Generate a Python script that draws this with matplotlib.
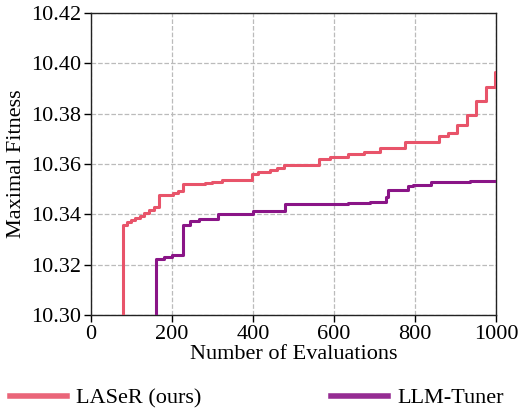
import matplotlib
matplotlib.use("Agg")
import matplotlib.pyplot as plt

plt.rcParams['font.family'] = ['Liberation Serif', 'DejaVu Serif']

laser_x = [1, 78, 88, 98, 109, 121, 132, 143, 156, 168, 203, 216, 228, 281, 298, 323,
           397, 412, 442, 458, 477, 564, 590, 635, 674, 693, 714, 774, 860, 882, 904,
           928, 951, 974, 997, 1000]
laser_y = [10.25, 10.3358, 10.3368, 10.3377, 10.3387, 10.3395, 10.3404, 10.3417, 10.3430,
           10.3477, 10.3483, 10.3494, 10.3520, 10.3526, 10.3530, 10.3535, 10.3560, 10.3569,
           10.3576, 10.3583, 10.3596, 10.3620, 10.3629, 10.3638, 10.3646, 10.3649, 10.3665,
           10.3688, 10.3712, 10.3724, 10.3755, 10.3795, 10.3850, 10.3907, 10.3965, 10.3965]

tuner_x = [1, 160, 179, 199, 226, 244, 267, 314, 401, 479, 635, 689, 728, 734, 782, 796,
           839, 936, 1000]
tuner_y = [10.25, 10.3221, 10.3232, 10.3238, 10.3358, 10.3375, 10.3381, 10.3401, 10.3413,
           10.3440, 10.3444, 10.3450, 10.3470, 10.3497, 10.3513, 10.3516, 10.3530, 10.3532,
           10.3532]

x_ticks = [0, 200, 400, 600, 800, 1000]
y_ticks = [10.30, 10.32, 10.34, 10.36, 10.38, 10.40, 10.42]

laser_color = '#E8546A'
tuner_color = '#8A1587'

fig = plt.figure(figsize=(5.2, 4.08), dpi=100)
ax = fig.add_axes([0.175, 0.228, 0.779, 0.740])

ax.step(laser_x, laser_y, where='post', color=laser_color, lw=2.2, label='LASeR (ours)', zorder=3)
ax.step(tuner_x, tuner_y, where='post', color=tuner_color, lw=2.2, label='LLM-Tuner', zorder=3)

ax.set_xlim(0, 1000)
ax.set_ylim(10.30, 10.42)
ax.set_xticks(x_ticks)
ax.set_yticks(y_ticks)
ax.set_yticklabels([f'{v:.2f}' for v in y_ticks])
ax.tick_params(labelsize=16, direction='out', length=5, width=1, pad=2)
ax.grid(True, linestyle='--', color='#bbbbbb', linewidth=0.9)
ax.set_axisbelow(True)
for s in ax.spines.values():
    s.set_linewidth(1.0)
    s.set_color('#222222')

ax.set_xlabel('Number of Evaluations', fontsize=16, labelpad=1)
ax.set_ylabel('Maximal Fitness', fontsize=16, labelpad=4)

leg = fig.legend(loc='lower left', bbox_to_anchor=(-0.02, -0.05), ncol=2, frameon=False,
                 fontsize=16, handlelength=2.6, handletextpad=0.4, columnspacing=5.8)
for l in leg.get_lines():
    l.set_linewidth(4)
    l.set_alpha(0.9)

fig.savefig('out.png', dpi=100)
